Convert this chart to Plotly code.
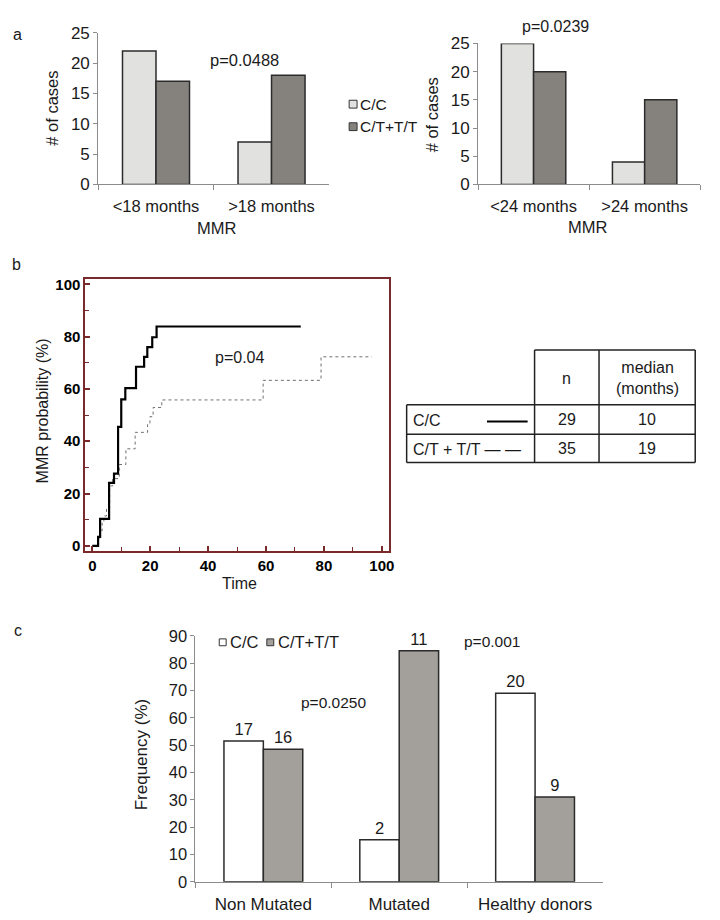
import plotly.graph_objects as go

W, H = 720, 920

# ---------------- data ----------------
genotypes = ["C/C", "C/T+T/T"]

a1_categories = ["<18 months", ">18 months"]
a1_cc = [22, 7]
a1_ct = [17, 18]

a2_categories = ["<24 months", ">24 months"]
a2_cc = [25, 4]
a2_ct = [20, 15]

km_cc_time = [0, 2, 2.7, 5.8, 7.5, 8.9, 10, 11.4, 15.1, 17.9, 19, 20.7, 22.2, 72]
km_cc_prob = [0, 3.4, 10.3, 24.1, 27.6, 45.5, 56.0, 60.3, 68.5, 72.3, 76.0, 79.8, 83.9, 83.9]
km_ct_time = [0, 1.8, 2.8, 3.4, 4.0, 4.9, 6.0, 7.0, 9.3, 11.6, 14.8, 19.1, 19.9, 21.0, 24.0, 59.0, 79.0, 96.5]
km_ct_prob = [0, 2.9, 5.7, 8.6, 11.4, 14.3, 22.9, 25.7, 31.1, 37.1, 43.4, 46.4, 49.4, 52.9, 55.8, 63.3, 72.3, 72.3]

c_categories = ["Non Mutated", "Mutated", "Healthy donors"]
c_cc_freq = [51.5, 15.4, 69.0]
c_ct_freq = [48.5, 84.6, 31.0]
c_cc_count = [17, 2, 20]
c_ct_count = [16, 11, 9]

table_groups = ["C/C", "C/T + T/T — —"]
table_n = [29, 35]
table_median = [10, 19]

# ---------------- style ----------------
FONT = "Liberation Sans, Arial, sans-serif"
TXT = "#1a1a1a"
a_colors = ["#e1e1df", "#85827e"]
c_colors = ["#ffffff", "#a3a09b"]
bar_line = dict(color="#2b2b2b", width=1.5)
km_col = "#7a2a2a"
ax_gray = "#8c8c8c"


def xd(x0, x1):
    return [x0 / W, x1 / W]


def yd(top, bottom):
    return [1 - bottom / H, 1 - top / H]


def px(x):
    return x / W


def py(y):
    return 1 - y / H


fig = go.Figure()

# panel a left
for vals, col, name in [(a1_cc, a_colors[0], genotypes[0]), (a1_ct, a_colors[1], genotypes[1])]:
    fig.add_trace(go.Bar(x=a1_categories, y=vals, name=name, marker=dict(color=col, line=bar_line),
                         xaxis="x", yaxis="y", showlegend=False))
# panel a right
for vals, col, name in [(a2_cc, a_colors[0], genotypes[0]), (a2_ct, a_colors[1], genotypes[1])]:
    fig.add_trace(go.Bar(x=a2_categories, y=vals, name=name, marker=dict(color=col, line=bar_line),
                         xaxis="x2", yaxis="y2", showlegend=False))
# panel b KM
fig.add_trace(go.Scatter(x=km_ct_time, y=km_ct_prob, mode="lines",
                         line=dict(shape="hv", color="#707070", width=1, dash="dot"),
                         xaxis="x3", yaxis="y3", showlegend=False, name="C/T + T/T"))
fig.add_trace(go.Scatter(x=km_cc_time, y=km_cc_prob, mode="lines",
                         line=dict(shape="hv", color="#000000", width=2.2),
                         xaxis="x3", yaxis="y3", showlegend=False, name="C/C"))
# panel c
for vals, cnt, col, name in [(c_cc_freq, c_cc_count, c_colors[0], genotypes[0]),
                             (c_ct_freq, c_ct_count, c_colors[1], genotypes[1])]:
    fig.add_trace(go.Bar(x=c_categories, y=vals, name=name, text=[str(v) for v in cnt],
                         textposition="outside", textfont=dict(family=FONT, size=16.5, color=TXT),
                         cliponaxis=False, marker=dict(color=col, line=bar_line),
                         xaxis="x4", yaxis="y4", showlegend=False))


def bar_y(size):
    return dict(showgrid=False, zeroline=False, showline=True, linecolor=ax_gray, linewidth=1,
                ticks="outside", ticklen=4, tickcolor=ax_gray,
                tickfont=dict(family=FONT, size=size, color=TXT))


def bar_x(size):
    return dict(showgrid=False, zeroline=False, showline=True, linecolor=ax_gray, linewidth=1,
                ticks="outside", tickson="boundaries", ticklen=5, tickcolor=ax_gray,
                tickfont=dict(family=FONT, size=size, color=TXT), ticklabelstandoff=7)


km_common = dict(showgrid=False, zeroline=False, showline=True, mirror=True, linecolor=km_col, linewidth=2,
                 ticks="inside", ticklen=5, tickwidth=1.5, tickcolor=km_col, dtick=20, tick0=0,
                 minor=dict(dtick=10, ticks="inside", ticklen=4, tickwidth=1.2, tickcolor=km_col),
                 tickfont=dict(family=FONT, size=15, color="#000", weight="bold"))

fig.update_layout(
    width=W, height=H, margin=dict(l=0, r=0, t=0, b=0),
    paper_bgcolor="white", plot_bgcolor="rgba(0,0,0,0)",
    barmode="group", bargap=0.42, bargroupgap=0,
    font=dict(family=FONT, color=TXT),
    xaxis=dict(domain=xd(91, 324), anchor="y", **bar_x(16.5)),
    yaxis=dict(domain=yd(16, 171), anchor="x", range=[0, 25], dtick=5, **bar_y(17)),
    xaxis2=dict(domain=xd(474, 698), anchor="y2", **bar_x(16.5)),
    yaxis2=dict(domain=yd(27, 171), anchor="x2", range=[0, 25], dtick=5, **bar_y(17)),
    xaxis3=dict(domain=xd(78, 384), anchor="y3", range=[-2.4, 102.4], **km_common),
    yaxis3=dict(domain=yd(268, 545), anchor="x3", range=[-1.9, 101.9], **km_common),
    xaxis4=dict(domain=xd(189, 600), anchor="y4", **bar_x(17)),
    yaxis4=dict(domain=yd(632, 883), anchor="x4", range=[0, 90], dtick=10, **bar_y(16.5)),
)

ann = []


def add_text(text, x, y, size=15, xanchor="center", yanchor="middle", angle=0, color=TXT, weight="normal"):
    ann.append(dict(text=text, x=px(x), y=py(y), xref="paper", yref="paper", showarrow=False,
                    xanchor=xanchor, yanchor=yanchor, textangle=angle,
                    font=dict(family=FONT, size=size, color=color, weight=weight)))


# panel letters
add_text("a", 10, 18, 16)
add_text("b", 9, 253, 16)
add_text("c", 10, 626, 16)

# panel a texts
add_text("# of cases", 44, 93, 16.5, angle=-90)
add_text("# of cases", 428, 100, 16.5, angle=-90)
add_text("MMR", 210, 215, 16.5)
add_text("MMR", 584, 214, 16.5)
add_text("p=0.0488", 238, 44, 16.5)
add_text("p=0.0239", 552, 10, 16)

# panel a legend (manual swatches)
shapes = []
for i, (name, col) in enumerate(zip(genotypes, a_colors)):
    cy = 89 + 23 * i
    shapes.append(dict(type="rect", xref="paper", yref="paper", x0=px(344), x1=px(352),
                       y0=py(cy + 4), y1=py(cy - 4), fillcolor=col, line=dict(color="#333", width=1)))
    add_text(name, 353, cy, 15.5, xanchor="left")

# panel b texts
add_text("MMR probability (%)", 35, 402, 16, angle=-90)
add_text("Time", 233, 578, 16)
add_text("p=0.04", 233, 348, 16)

# table
tx0, tx1, tx2, tx3 = 402, 531, 596, 693
ty0, ty1, ty2, ty3 = 340, 396, 426, 455
tline = dict(color="#222", width=1.5)
for (x0, y0, x1, y1) in [(tx1, ty0, tx3, ty0), (tx0, ty1, tx3, ty1), (tx0, ty2, tx3, ty2), (tx0, ty3, tx3, ty3),
                         (tx0, ty1, tx0, ty3), (tx1, ty0, tx1, ty3), (tx2, ty0, tx2, ty3), (tx3, ty0, tx3, ty3)]:
    shapes.append(dict(type="line", xref="paper", yref="paper", x0=px(x0), x1=px(x1), y0=py(y0), y1=py(y1), line=tline))
add_text("n", (tx1 + tx2) / 2, 369, 16)
add_text("median<br>(months)", (tx2 + tx3) / 2, 369, 16)
for i, (g, n, m) in enumerate(zip(table_groups, table_n, table_median)):
    cy = (ty1 + ty2) / 2 if i == 0 else (ty2 + ty3) / 2
    add_text(g, tx0 + 4, cy + 1, 16, xanchor="left")
    add_text(str(n), (tx1 + tx2) / 2, cy, 16)
    add_text(str(m), (tx2 + tx3) / 2, cy, 16)
shapes.append(dict(type="line", xref="paper", yref="paper", x0=px(483), x1=px(524), y0=py(413), y1=py(413),
                   line=dict(color="#000", width=2)))

# panel c texts
add_text("Frequency (%)", 135, 753, 17, angle=-90)
add_text("p=0.0250", 328, 700, 15.5)
add_text("p=0.001", 488, 638, 15.5)
for i, (name, col, lx) in enumerate(zip(genotypes, c_colors, [213, 261])):
    shapes.append(dict(type="rect", xref="paper", yref="paper", x0=px(lx), x1=px(lx + 7),
                       y0=py(642), y1=py(635), fillcolor=col, line=dict(color="#333", width=1)))
    add_text(name, lx + 9, 638, 16.5, xanchor="left")

fig.update_layout(annotations=ann, shapes=shapes)

fig.write_html("out.html")
